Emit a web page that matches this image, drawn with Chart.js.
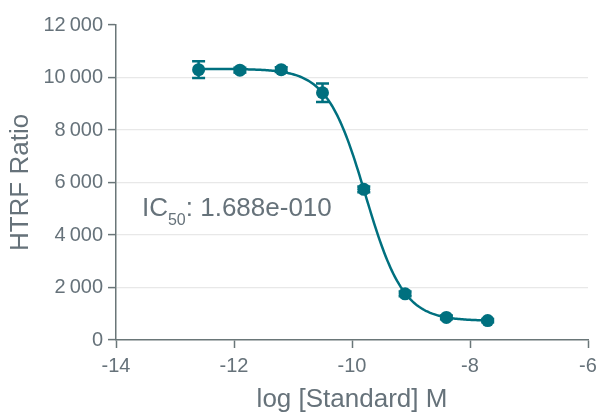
<!DOCTYPE html>
<html>
<head>
<meta charset="utf-8">
<script src="https://cdn.jsdelivr.net/npm/chart.js@4/dist/chart.umd.min.js"></script>
<style>
html,body{margin:0;padding:0;background:#fff;}
#wrap{width:596px;height:415px;}
</style>
</head>
<body>
<div id="wrap"><canvas id="c" width="596" height="415"></canvas></div>
<script>
// Data
const logConc = [-12.6, -11.9, -11.2, -10.5, -9.8, -9.1, -8.4, -7.7];
const htrfRatio = [10300, 10280, 10300, 9420, 5740, 1760, 860, 740];
const errors = [320, 90, 90, 350, 110, 90, 70, 60];
const xTicks = [-14, -12, -10, -8, -6];
const yTicks = [0, 2000, 4000, 6000, 8000, 10000, 12000];
// Four-parameter logistic fit parameters
const fitTop = 10330;
const fitBottom = 730;
const ic50 = 1.688e-10;
const hillSlope = 1.35;
const curveRange = [-12.6, -7.7];

const TEAL = '#00707f';
const TEXT = '#66727a';
const AXIS = '#6a7678';
const GRID = '#e8e8e8';
const FONT = "'Liberation Sans', Arial, sans-serif";

const logIC50 = Math.log10(ic50);
const curve = [];
for (let i = 0; i <= 196; i++) {
  const x = curveRange[0] + (curveRange[1] - curveRange[0]) * i / 196;
  const y = fitBottom + (fitTop - fitBottom) / (1 + Math.pow(10, (x - logIC50) * hillSlope));
  curve.push({x, y});
}
const points = logConc.map((x, i) => ({x, y: htrfRatio[i]}));

function fmt(v) {
  return String(v).replace(/\B(?=(\d{3})+(?!\d))/g, '\u2009');
}

const errorBars = {
  id: 'errorBars',
  beforeDatasetDraw(chart, args) {
    if (args.index !== 1) return;
    const ctx = chart.ctx, xs = chart.scales.x, ys = chart.scales.y;
    ctx.save();
    ctx.strokeStyle = TEAL;
    ctx.lineWidth = 2.5;
    logConc.forEach((x, i) => {
      const px = xs.getPixelForValue(x);
      const y1 = ys.getPixelForValue(htrfRatio[i] + errors[i]);
      const y2 = ys.getPixelForValue(htrfRatio[i] - errors[i]);
      ctx.beginPath();
      ctx.moveTo(px, y1); ctx.lineTo(px, y2);
      ctx.moveTo(px - 6.5, y1); ctx.lineTo(px + 6.5, y1);
      ctx.moveTo(px - 6.5, y2); ctx.lineTo(px + 6.5, y2);
      ctx.stroke();
    });
    ctx.restore();
  }
};

const ic50Label = {
  id: 'ic50Label',
  afterDraw(chart) {
    const ctx = chart.ctx, xs = chart.scales.x, ys = chart.scales.y;
    let x = xs.getPixelForValue(-13.56);
    const y = ys.getPixelForValue(4710);
    ctx.save();
    ctx.fillStyle = TEXT;
    ctx.textBaseline = 'alphabetic';
    ctx.textAlign = 'left';
    ctx.font = '26px ' + FONT;
    ctx.fillText('IC', x, y);
    x += ctx.measureText('IC').width;
    ctx.font = '16px ' + FONT;
    ctx.fillText('50', x, y + 9);
    x += ctx.measureText('50').width;
    ctx.font = '26px ' + FONT;
    ctx.fillText(': ' + ic50.toExponential(3).replace('e-', 'e-0'), x, y);
    ctx.restore();
  }
};

new Chart(document.getElementById('c'), {
  type: 'scatter',
  data: {
    datasets: [
      {
        data: curve,
        showLine: true,
        borderColor: TEAL,
        borderWidth: 2.5,
        pointRadius: 0,
        tension: 0,
        fill: false
      },
      {
        data: points,
        showLine: false,
        backgroundColor: TEAL,
        borderColor: TEAL,
        pointRadius: 6.5,
        pointHoverRadius: 6.5,
        borderWidth: 0
      }
    ]
  },
  options: {
    responsive: false,
    animation: false,
    events: [],
    layout: { padding: { top: 25, right: 8, left: 0, bottom: 0 } },
    plugins: { legend: { display: false }, tooltip: { enabled: false } },
    scales: {
      x: {
        type: 'linear',
        min: -14, max: -6,
        afterBuildTicks(s) { s.ticks = xTicks.map(v => ({value: v})); },
        afterFit(s) { s.height = 75; s.paddingLeft = 0; s.paddingRight = 0; },
        border: { display: true, color: AXIS, width: 1.5 },
        grid: { drawOnChartArea: false, drawTicks: true, tickLength: 8, tickColor: AXIS, tickWidth: 1.5 },
        ticks: { color: TEXT, font: { family: FONT, size: 20 }, padding: 6 },
        title: { display: true, text: 'log [Standard] M', color: TEXT, font: { family: FONT, size: 26 }, padding: { top: 4, bottom: 0 } }
      },
      y: {
        min: 0, max: 12000,
        afterBuildTicks(s) { s.ticks = yTicks.map(v => ({value: v})); },
        afterFit(s) { s.width = 116; s.paddingTop = 0; s.paddingBottom = 0; },
        border: { display: true, color: AXIS, width: 1.5 },
        grid: {
          color: ctx => (ctx.tick && (ctx.tick.value === 0 || ctx.tick.value === 12000)) ? 'rgba(0,0,0,0)' : GRID,
          lineWidth: 1.2,
          drawTicks: true, tickLength: 8, tickColor: AXIS, tickWidth: 1.5
        },
        ticks: { color: TEXT, font: { family: FONT, size: 20 }, padding: 5, callback: v => fmt(v) },
        title: { display: true, text: 'HTRF Ratio', color: TEXT, font: { family: FONT, size: 26 }, padding: { top: 5, bottom: 0 } }
      }
    }
  },
  plugins: [errorBars, ic50Label]
});
</script>
</body>
</html>
